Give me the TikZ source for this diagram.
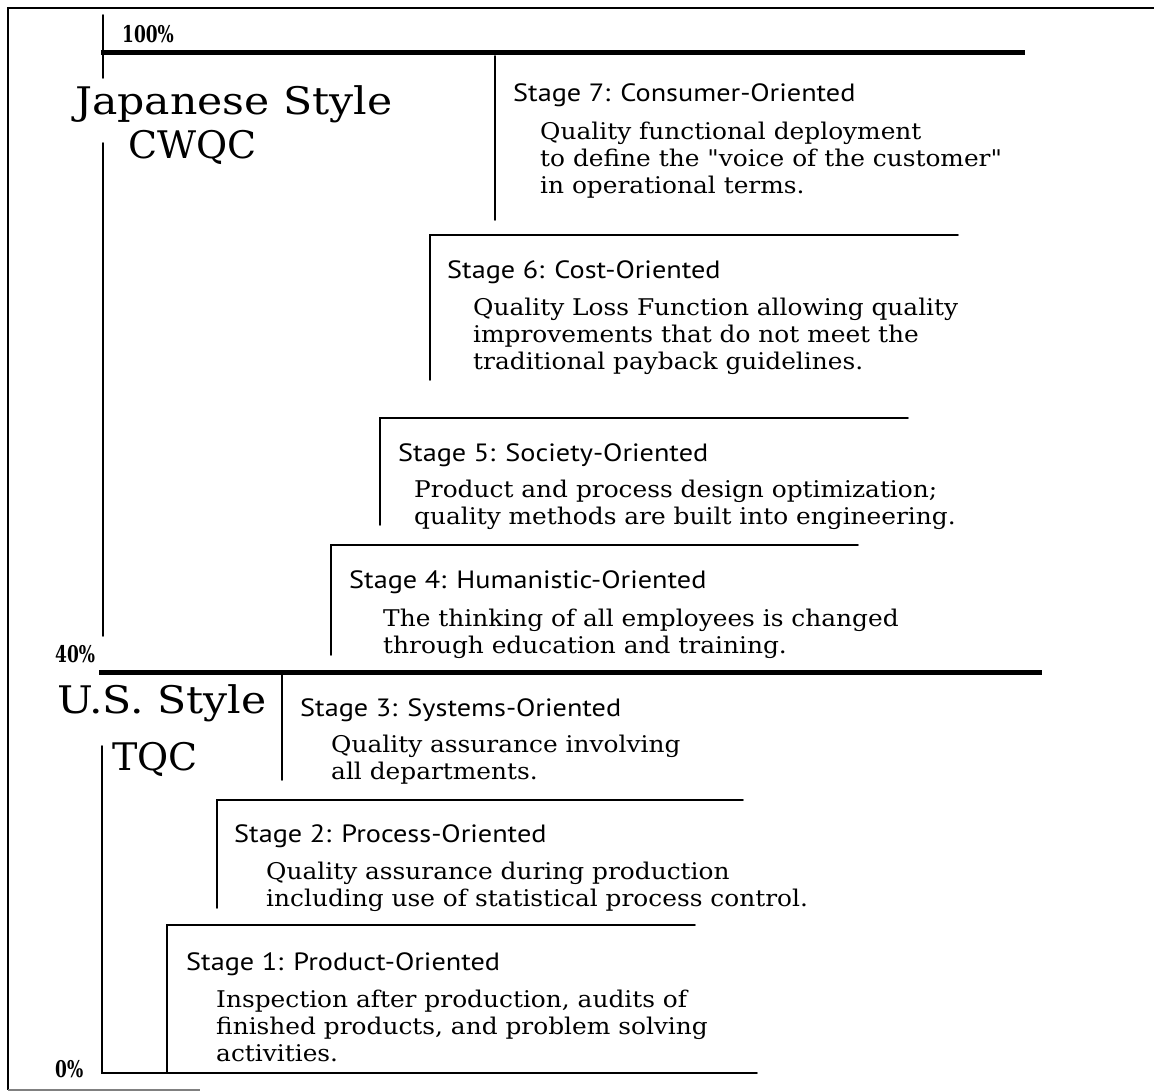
\documentclass[tikz,border=0pt]{standalone}
\usepackage{fontspec}
\setmainfont{DejaVu Serif}
\newfontfamily\bodyf[FakeStretch=1.08]{DejaVu Serif}
\newfontfamily\titlef[FakeStretch=1.13]{PT Sans}
\newfontfamily\bigf{DejaVu Serif}
\newfontfamily\bigwf[FakeStretch=1.12]{DejaVu Serif}
\newfontfamily\pctf[FakeStretch=0.74]{DejaVu Serif}
\begin{document}
\begin{tikzpicture}[x=1pt,y=-1pt,
  thinline/.style={line width=1.6pt,line cap=round},
  bar/.style={line width=5pt},
  stitle/.style={anchor=base west,inner sep=0pt,font=\titlef\fontsize{25}{28}\selectfont},
  sbody/.style={anchor=north west,inner sep=0pt,align=left,font=\bodyf\fontsize{23}{27}\selectfont},
  biglab/.style={anchor=base west,inner sep=0pt,font=\bigf\fontsize{38}{44}\selectfont},
  pct/.style={anchor=base west,inner sep=0pt,font=\pctf\bfseries\fontsize{23}{25}\selectfont}]
\useasboundingbox (0,0) rectangle (1154,1092);
% frame
\draw[line width=1.5pt] (1154,8) -- (8,8) -- (8,1090);
\draw[line width=1.5pt,gray] (8,1090) -- (200,1090);
% axis
\draw[thinline] (103,15) -- (103,78);
\draw[thinline] (103,143) -- (103,636);
\draw[thinline] (102,746) -- (102,1073) -- (757,1073);
\draw[bar] (101,52) -- (1025,52);
\draw[bar] (99,672) -- (1042,672);
% stage brackets
\draw[thinline] (495,56) -- (495,220);
\draw[thinline] (958,235) -- (430,235) -- (430,380);
\draw[thinline] (908,418) -- (380,418) -- (380,525);
\draw[thinline] (858,545) -- (331,545) -- (331,655);
\draw[thinline] (282,675) -- (282,780);
\draw[thinline] (743,800) -- (217,800) -- (217,908);
\draw[thinline] (695,925) -- (167,925) -- (167,1073);
% labels
\node[pct] (p100) at (122,42) {100\%};
\node[pct] (p40) at (55,662) {40\%};
\node[pct] (p0) at (55,1077) {0\%};
\node[biglab,font=\bigwf\fontsize{38}{44}\selectfont] (jap) at (75,114) {Japanese Style};
\node[biglab] (cwqc) at (128,158) {CWQC};
\node[biglab,font=\bigwf\fontsize{38}{44}\selectfont] (us) at (57,713) {U.S. Style};
\node[biglab] (tqc) at (112,770) {TQC};
% stages
\node[stitle] (t7) at (513,101) {Stage 7: Consumer-Oriented};
\node[sbody] (b7) at (540,119) {\rule{0pt}{20pt}Quality functional deployment\\to define the "voice of the customer"\\in operational terms.};
\node[stitle] (t6) at (447,278) {Stage 6: Cost-Oriented};
\node[sbody] (b6) at (473,295) {\rule{0pt}{20pt}Quality Loss Function allowing quality\\improvements that do not meet the\\traditional payback guidelines.};
\node[stitle] (t5) at (398,461) {Stage 5: Society-Oriented};
\node[sbody] (b5) at (414,477) {\rule{0pt}{20pt}Product and process design optimization;\\quality methods are built into engineering.};
\node[stitle] (t4) at (349,588) {Stage 4: Humanistic-Oriented};
\node[sbody] (b4) at (383,606) {\rule{0pt}{20pt}The thinking of all employees is changed\\through education and training.};
\node[stitle] (t3) at (300,716) {Stage 3: Systems-Oriented};
\node[sbody] (b3) at (331,732) {\rule{0pt}{20pt}Quality assurance involving\\all departments.};
\node[stitle] (t2) at (234,842) {Stage 2: Process-Oriented};
\node[sbody] (b2) at (266,859) {\rule{0pt}{20pt}Quality assurance during production\\including use of statistical process control.};
\node[stitle] (t1) at (186,970) {Stage 1: Product-Oriented};
\node[sbody] (b1) at (216,987) {\rule{0pt}{20pt}Inspection after production, audits of\\finished products, and problem solving\\activities.};
\end{tikzpicture}
\end{document}
